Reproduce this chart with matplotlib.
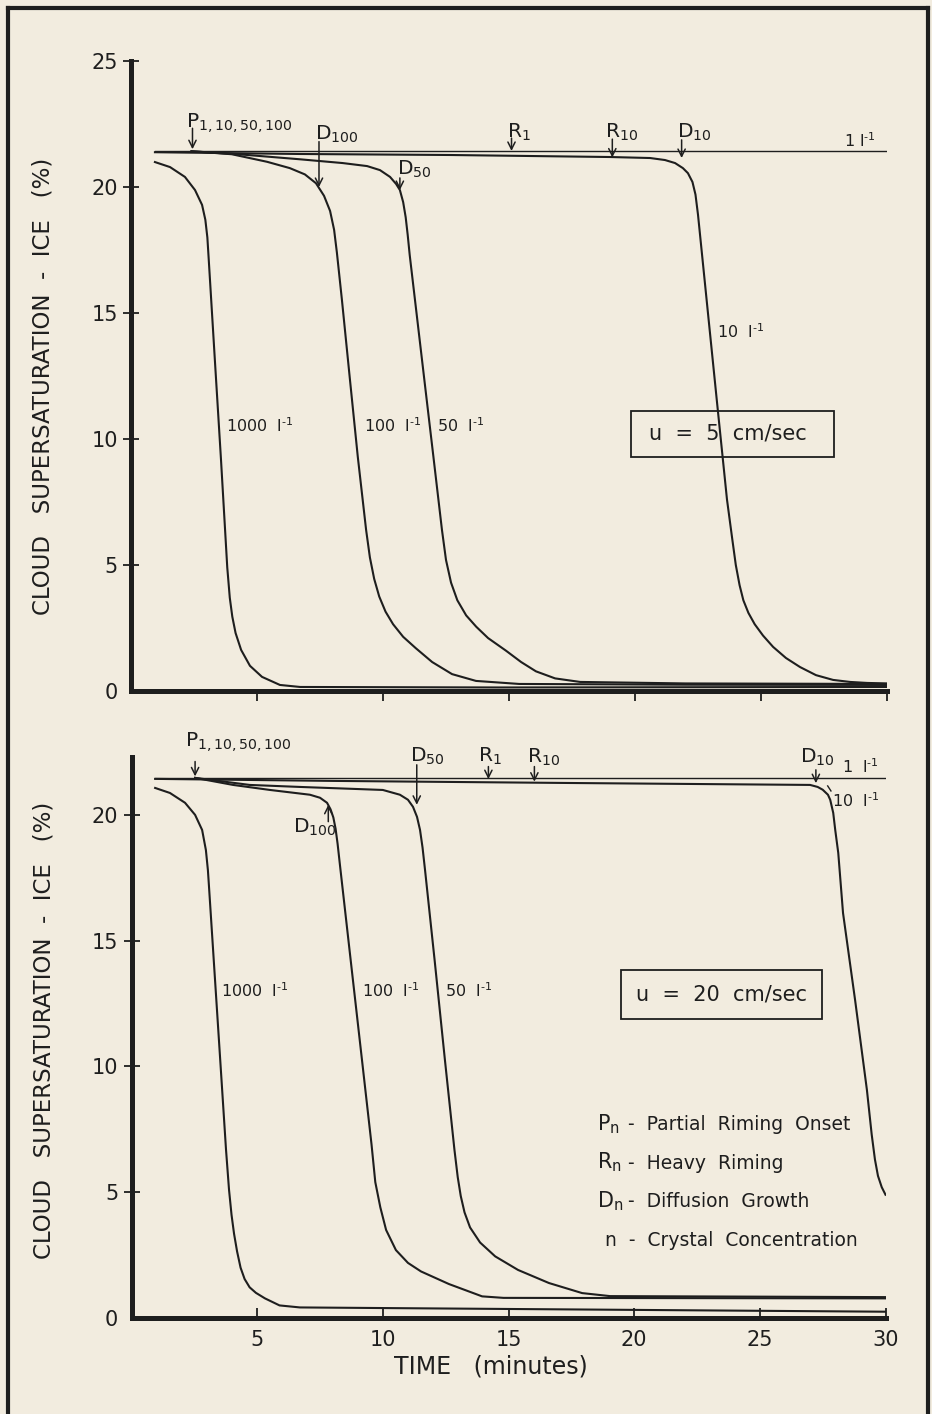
#!/usr/bin/env python3
import matplotlib.pyplot as plt
from matplotlib.lines import Line2D
from matplotlib.patches import Rectangle

# =====================================================================
# Cloud supersaturation over ice vs time, two updraft speeds.
# Values (time in minutes, S_ice in %).
# =====================================================================

# ---- top panel: u = 5 cm/sec ----
top_t_1 = [0.95, 30.0]
top_y_1 = [21.42, 21.42]

top_t_10 = [0.95, 6.7, 12.66, 19.0, 20.6, 21.19, 21.59, 21.9, 22.1, 22.28, 22.4,
            22.5, 22.9, 23.25, 23.65, 23.85, 24.0, 24.15, 24.3, 24.5, 24.75,
            25.08, 25.48, 25.99, 26.55, 27.18, 27.86, 28.53, 29.21, 30.0]
top_y_10 = [21.38, 21.31, 21.27, 21.19, 21.15, 21.07, 20.95, 20.75, 20.55, 20.2, 19.7,
            18.9, 14.95, 11.5, 7.6, 6.1, 5.0, 4.2, 3.6, 3.1, 2.65,
            2.2, 1.75, 1.31, 0.95, 0.63, 0.44, 0.36, 0.32, 0.3]

top_t_50 = [2.4, 4.5, 6.7, 8.4, 9.37, 9.88, 10.28, 10.52, 10.67, 10.8, 10.9, 10.98,
            11.06, 11.31, 11.67, 12.0, 12.34, 12.5, 12.7, 12.95, 13.3, 13.7, 14.17,
            14.88, 15.48, 16.07, 16.83, 17.82, 22.0, 30.0]
top_y_50 = [21.42, 21.28, 21.1, 20.95, 20.83, 20.67, 20.4, 20.12, 19.88, 19.4, 18.8, 18.1,
            17.3, 15.17, 12.1, 9.3, 6.39, 5.2, 4.3, 3.6, 3.0, 2.55, 2.1,
            1.6, 1.15, 0.78, 0.5, 0.36, 0.3, 0.28]

top_t_100 = [2.4, 4.0, 5.4, 6.3, 6.9, 7.34, 7.66, 7.9, 8.06, 8.17, 8.37, 8.69, 9.0,
             9.33, 9.48, 9.65, 9.85, 10.1, 10.4, 10.8, 11.3, 11.95, 12.74, 13.69,
             15.4, 22.0, 30.0]
top_y_100 = [21.42, 21.3, 21.0, 20.75, 20.5, 20.15, 19.65, 19.05, 18.3, 17.4, 15.52, 12.34, 9.29,
             6.39, 5.3, 4.45, 3.75, 3.15, 2.65, 2.15, 1.7, 1.15, 0.67, 0.4,
             0.28, 0.25, 0.24]

top_t_1000 = [0.95, 1.55, 2.14, 2.54, 2.82, 2.95, 3.03, 3.08, 3.33, 3.57, 3.82,
              3.92, 4.02, 4.15, 4.37, 4.72, 5.2, 5.91, 6.71, 14.6, 30.0]
top_y_1000 = [20.99, 20.79, 20.4, 19.88, 19.29, 18.7, 18.0, 17.2, 13.1, 9.2, 4.9,
              3.7, 2.95, 2.3, 1.63, 1.0, 0.56, 0.24, 0.16, 0.14, 0.16]

# ---- bottom panel: u = 20 cm/sec ----
bot_t_1 = [0.94, 30.0]
bot_y_1 = [21.47, 21.47]

bot_t_10 = [0.94, 8.0, 17.05, 27.0, 27.3, 27.5, 27.71, 27.8, 27.92, 28.0, 28.12, 28.31,
            28.79, 29.26, 29.45, 29.58, 29.7, 29.85, 30.0]
bot_y_10 = [21.43, 21.35, 21.27, 21.19, 21.11, 21.0, 20.8, 20.6, 20.08, 19.4, 18.49, 16.1,
            12.64, 9.07, 7.3, 6.3, 5.65, 5.2, 4.9]

bot_t_50 = [2.53, 4.7, 6.7, 10.0, 10.68, 11.0, 11.2, 11.36, 11.48, 11.58, 11.68, 12.06,
            12.47, 12.85, 12.98, 13.1, 13.25, 13.47, 13.87, 14.47, 15.38, 16.61,
            17.93, 19.04, 30.0]
bot_y_50 = [21.47, 21.19, 21.11, 20.99, 20.8, 20.6, 20.32, 19.92, 19.4, 18.7, 17.8, 14.23,
            10.26, 6.68, 5.6, 4.85, 4.2, 3.6, 3.0, 2.45, 1.91, 1.39,
            0.99, 0.87, 0.83]

bot_t_100 = [2.53, 4.04, 5.51, 7.1, 7.5, 7.78, 7.92, 8.03, 8.12, 8.2, 8.3, 8.72, 9.17,
             9.55, 9.7, 9.9, 10.13, 10.52, 11.0, 11.52, 12.63, 13.95, 14.8, 30.0]
bot_y_100 = [21.47, 21.19, 20.99, 20.8, 20.68, 20.48, 20.22, 19.9, 19.45, 18.85, 17.95, 14.23,
             10.26, 6.9, 5.4, 4.4, 3.5, 2.7, 2.19, 1.85, 1.35, 0.86, 0.8, 0.78]

bot_t_1000 = [0.94, 1.53, 2.13, 2.53, 2.81, 2.96, 3.04, 3.08, 3.3, 3.55, 3.76, 3.88,
              3.98, 4.08, 4.2, 4.34, 4.5, 4.7, 4.95, 5.31, 5.89, 6.7, 14.8, 30.0]
bot_y_1000 = [21.07, 20.87, 20.48, 20.0, 19.4, 18.6, 17.8, 17.2, 13.8, 9.95, 6.7, 5.1,
              4.1, 3.35, 2.65, 2.0, 1.55, 1.22, 1.0, 0.78, 0.5, 0.42, 0.36, 0.25]

# event markers: label, time, arrow tail, arrow tip, label left, label baseline
top_events = [(r'P$_{\rm 1,10,50,100}$', 2.44, 22.33, 21.5, 2.18, 22.34),
              (r'D$_{\rm 100}$', 7.46, 21.8, 20.0, 7.3, 21.87),
              (r'D$_{\rm 50}$', 10.67, 20.36, 19.88, 10.56, 20.48),
              (r'R$_{\rm 1}$', 15.1, 21.94, 21.43, 14.92, 21.94),
              (r'R$_{\rm 10}$', 19.1, 21.9, 21.17, 18.81, 21.94),
              (r'D$_{\rm 10}$', 21.85, 21.87, 21.15, 21.67, 21.94)]
bot_events = [(r'P$_{\rm 1,10,50,100}$', 2.53, 22.12, 21.53, 2.13, 22.7),
              (r'D$_{\rm 50}$', 11.35, 21.99, 20.4, 11.08, 22.11),
              (r'R$_{\rm 1}$', 14.2, 21.92, 21.42, 13.79, 22.11),
              (r'R$_{\rm 10}$', 16.03, 21.92, 21.32, 15.74, 22.07),
              (r'D$_{\rm 10}$', 27.23, 21.79, 21.26, 26.6, 22.07),
              (r'D$_{\rm 100}$', 7.83, 19.73, 20.4, 6.43, 19.28)]

key_symbols = ['P', 'R', 'D']
key_texts = ['-  Partial  Riming  Onset', '-  Heavy  Riming', '-  Diffusion  Growth']
key_last = 'n  -  Crystal  Concentration'

# "per litre" tag, short hyphen in the exponent as on the scan
PER_L = 'l$^{\u20101}$'

ink = '#1e1e1e'
paper = '#f2ecdf'

plt.rcParams.update({
    'font.family': 'DejaVu Sans',
    'mathtext.fontset': 'dejavusans',
    'text.color': ink,
    'axes.edgecolor': ink,
    'xtick.color': ink,
    'ytick.color': ink,
})

fig = plt.figure(figsize=(9.32, 14.14), dpi=100, facecolor=paper)
ax1 = fig.add_axes([131 / 932, 1 - 691 / 1414, 756 / 932, 630 / 1414])
ax2 = fig.add_axes([131.5 / 932, 1 - 1318 / 1414, 754 / 932, 561 / 1414])

# outer frame of the plate
for xs, ys in [([0.009, 0.009], [0.0, 0.9945]),
               ([0.009, 0.9957], [0.9945, 0.9945]),
               ([0.9957, 0.9957], [0.0, 0.9945])]:
    fig.add_artist(Line2D(xs, ys, transform=fig.transFigure, color=ink, lw=3))


def style_axes(ax, ymax, xdir, show_xlabels, ylab_y):
    ax.set_facecolor('none')
    ax.set_xlim(0, 30)
    ax.set_ylim(0, ymax)
    for side in ['top', 'right']:
        ax.spines[side].set_visible(False)
    for side in ['left', 'bottom']:
        ax.spines[side].set_linewidth(3.6)
    ax.set_xticks([5, 10, 15, 20, 25, 30])
    ax.set_yticks([0, 5, 10, 15, 20, 25] if ymax >= 25 else [0, 5, 10, 15, 20])
    ax.tick_params(axis='y', direction='inout', length=11, width=1.3, pad=4,
                   labelsize=15)
    ax.tick_params(axis='x', direction=xdir, length=7, width=1.3, pad=9,
                   labelsize=15, labelbottom=show_xlabels)
    ax.yaxis.get_major_ticks()[0].tick1line.set_visible(False)
    ax.text(-0.116, ylab_y, 'CLOUD   SUPERSATURATION  -  ICE   (%)', transform=ax.transAxes,
            rotation=90, ha='center', va='center', fontsize=16.5)


def draw_events(ax, events):
    for label, t, tail, tip, lx, ly in events:
        ax.annotate('', xy=(t, tip), xytext=(t, tail),
                    arrowprops=dict(arrowstyle='->', color=ink, lw=1.1,
                                    shrinkA=0, shrinkB=0, mutation_scale=13))
        ax.text(lx, ly, label, ha='left', va='baseline', fontsize=14.5)


def draw_curves(ax, thin, thick):
    ax.plot(thin[0], thin[1], color=ink, lw=1.0)
    for t, y in thick:
        ax.plot(t, y, color=ink, lw=1.5, solid_joinstyle='round')


# ---- top panel ----
style_axes(ax1, 25, 'out', False, 0.484)
draw_curves(ax1, (top_t_1, top_y_1),
            [(top_t_10, top_y_10), (top_t_50, top_y_50),
             (top_t_100, top_y_100), (top_t_1000, top_y_1000)])
draw_events(ax1, top_events)
ax1.text(28.3, 21.6, '1 ' + PER_L, fontsize=11.5, ha='left', va='baseline')
ax1.text(23.25, 14.0, '10  ' + PER_L, fontsize=11.5, ha='left', va='baseline')
ax1.text(3.77, 10.28, '1000  ' + PER_L, fontsize=11.5, ha='left', va='baseline')
ax1.text(9.25, 10.28, '100  ' + PER_L, fontsize=11.5, ha='left', va='baseline')
ax1.text(12.14, 10.28, '50  ' + PER_L, fontsize=11.5, ha='left', va='baseline')
ax1.add_patch(Rectangle((19.85, 9.3), 8.05, 1.8, fill=False, ec=ink, lw=1.3))
ax1.text(23.7, 10.2, 'u  =  5  cm/sec', ha='center', va='center', fontsize=15)

# ---- bottom panel ----
style_axes(ax2, 22.3, 'in', True, 0.513)
draw_curves(ax2, (bot_t_1, bot_y_1),
            [(bot_t_10, bot_y_10), (bot_t_50, bot_y_50),
             (bot_t_100, bot_y_100), (bot_t_1000, bot_y_1000)])
draw_events(ax2, bot_events)
ax2.text(28.27, 21.67, '1  ' + PER_L, fontsize=11.5, ha='left', va='baseline')
ax2.text(27.87, 20.32, '10  ' + PER_L, fontsize=11.5, ha='left', va='baseline')
ax2.plot([27.7, 27.83], [21.15, 20.95], color=ink, lw=1.0)
ax2.text(3.56, 12.76, '1000  ' + PER_L, fontsize=11.5, ha='left', va='baseline')
ax2.text(9.17, 12.76, '100  ' + PER_L, fontsize=11.5, ha='left', va='baseline')
ax2.text(12.47, 12.76, '50  ' + PER_L, fontsize=11.5, ha='left', va='baseline')
ax2.add_patch(Rectangle((19.48, 11.89), 8.0, 1.95, fill=False, ec=ink, lw=1.3))
ax2.text(23.48, 12.86, 'u  =  20  cm/sec', ha='center', va='center', fontsize=15)
ax2.text(0.477, -0.0856, 'TIME   (minutes)', transform=ax2.transAxes,
         ha='center', va='center', fontsize=17)

# key, lower right
for i, (sym, txt) in enumerate(zip(key_symbols, key_texts)):
    y = 1 - (1130 + 38.7 * i) / 1414
    fig.text(597 / 932, y, sym + r'$_{\rm n}$', fontsize=15, ha='left', va='baseline')
    fig.text(628 / 932, y, txt, fontsize=13.5, ha='left', va='baseline')
fig.text(605 / 932, 1 - 1246 / 1414, key_last, fontsize=13.5, ha='left', va='baseline')

fig.savefig('out.png', dpi=100, facecolor=paper)
